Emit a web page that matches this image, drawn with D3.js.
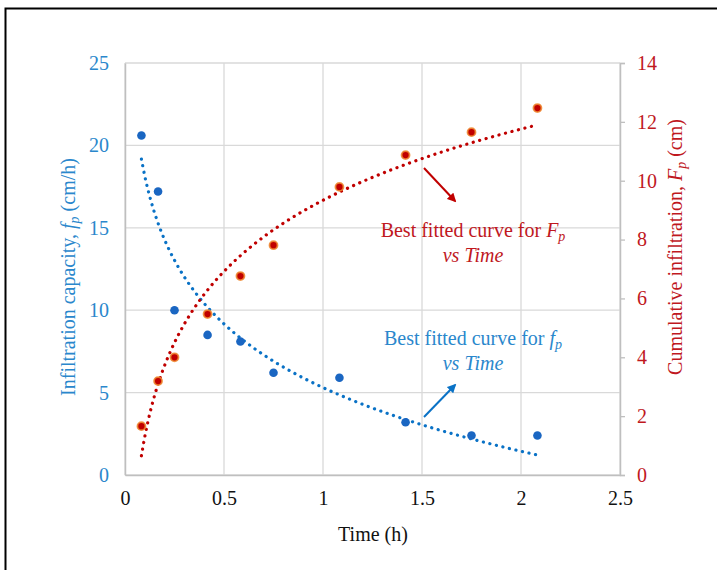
<!DOCTYPE html>
<html>
<head>
<meta charset="utf-8">
<script src="https://cdn.jsdelivr.net/npm/d3@7"></script>
<style>
  body { margin: 0; background: #fff; }
</style>
</head>
<body>
<svg id="chart" width="717" height="570"></svg>
<script>
"use strict";

// time of each reading (h)
var times = [0.083, 0.167, 0.25, 0.417, 0.583, 0.75, 1.083, 1.417, 1.75, 2.083];
// infiltration capacity fp (cm/h)
var fpValues = [20.6, 17.2, 10.0, 8.5, 8.1, 6.2, 5.9, 3.2, 2.4, 2.4];
// cumulative infiltration Fp (cm)
var FpValues = [1.66, 3.19, 4.0, 5.47, 6.76, 7.81, 9.79, 10.87, 11.65, 12.47];

var xTicks = [0, 0.5, 1, 1.5, 2, 2.5];
var yLeftTicks = [0, 5, 10, 15, 20, 25];
var yRightTicks = [0, 2, 4, 6, 8, 10, 12, 14];

var blue = "#1a66c2", blueLine = "#0a72c6", blueText = "#2a87cc";
var red = "#c00000", redText = "#c0181e";
var serif = "'Liberation Serif', 'Times New Roman', serif";

var margin = { top: 63, right: 97, bottom: 95, left: 125 };
var width = 717 - margin.left - margin.right;
var height = 570 - margin.top - margin.bottom;

var svg = d3.select("#chart");

// outer frame (only top and left edges show inside the picture)
svg.append("path").attr("d", "M5.5,570 V8.5 H717")
  .attr("fill", "none").attr("stroke", "#000").attr("stroke-width", 2);

var chart = svg.append("g").attr("transform", "translate(" + margin.left + "," + margin.top + ")");

var x = d3.scaleLinear().domain([0, 2.5]).range([0, width]);
var yL = d3.scaleLinear().domain([0, 25]).range([height, 0]);
var yR = d3.scaleLinear().domain([0, 14]).range([height, 0]);

// gridlines
chart.append("g").selectAll("line.h").data(yLeftTicks).enter().append("line")
  .attr("x1", 0).attr("x2", width)
  .attr("y1", function (d) { return yL(d); }).attr("y2", function (d) { return yL(d); })
  .attr("stroke", "#d9d9d9").attr("stroke-width", 1.3);
chart.append("g").selectAll("line.v").data(xTicks).enter().append("line")
  .attr("x1", function (d) { return x(d); }).attr("x2", function (d) { return x(d); })
  .attr("y1", 0).attr("y2", height)
  .attr("stroke", "#d9d9d9").attr("stroke-width", 1.3);

// axes
var xAxis = d3.axisBottom(x).tickValues(xTicks).tickSize(0).tickPadding(16).tickFormat(d3.format(""));
var yLeftAxis = d3.axisLeft(yL).tickValues(yLeftTicks).tickSize(0).tickPadding(16);
var yRightAxis = d3.axisRight(yR).tickValues(yRightTicks).tickSize(5).tickPadding(12);

function styleAxis(g, color) {
  g.select(".domain").attr("stroke", "#bfbfbf").attr("stroke-width", 1.5);
  g.selectAll(".tick line").attr("stroke", "#bfbfbf").attr("stroke-width", 1.3);
  g.selectAll(".tick text").attr("fill", color).style("font-size", "20px");
}

chart.append("g").attr("class", "x axis").attr("transform", "translate(0," + height + ")")
  .call(xAxis).call(styleAxis, "#111");
chart.append("g").attr("class", "y axis").call(yLeftAxis).call(styleAxis, blueText);
chart.append("g").attr("class", "y2 axis").attr("transform", "translate(" + width + ",0)")
  .call(yRightAxis).call(styleAxis, redText);

// axis titles
svg.append("text").attr("x", 373).attr("y", 541).attr("text-anchor", "middle")
  .attr("fill", "#111").style("font-size", "20px").text("Time (h)");

var lt = svg.append("text").attr("transform", "translate(75,277) rotate(-90)")
  .attr("text-anchor", "middle").attr("fill", blueText).style("font-size", "20px");
lt.append("tspan").text("Infiltration  capacity, ");
lt.append("tspan").attr("font-style", "italic").text("f");
lt.append("tspan").attr("font-style", "italic").attr("dy", 4).style("font-size", "14px").text("p");
lt.append("tspan").attr("dy", -4).text(" (cm/h)");

var rt = svg.append("text").attr("transform", "translate(682,247) rotate(-90)")
  .attr("text-anchor", "middle").attr("fill", redText).style("font-size", "20px");
rt.append("tspan").text("Cumulative infiltration, ");
rt.append("tspan").attr("font-style", "italic").text("F");
rt.append("tspan").attr("font-style", "italic").attr("dy", 4).style("font-size", "14px").text("p");
rt.append("tspan").attr("dy", -4).text(" (cm)");

// logarithmic least-squares trend line, as in the spreadsheet
function logFit(xs, ys) {
  var lx = xs.map(Math.log);
  var mx = d3.mean(lx), my = d3.mean(ys);
  var sxy = d3.sum(lx, function (v, i) { return (v - mx) * (ys[i] - my); });
  var sxx = d3.sum(lx, function (v) { return (v - mx) * (v - mx); });
  var b = sxy / sxx;
  var a = my - b * mx;
  return function (t) { return a + b * Math.log(t); };
}

function trendPoints(fit) {
  var t0 = d3.min(times), t1 = d3.max(times);
  return d3.range(0, 201).map(function (i) {
    var t = t0 + (t1 - t0) * i / 200;
    return [t, fit(t)];
  });
}

var fpFit = logFit(times, fpValues);
var FpFit = logFit(times, FpValues);

chart.append("path").datum(trendPoints(fpFit))
  .attr("d", d3.line().x(function (d) { return x(d[0]); }).y(function (d) { return yL(d[1]); }))
  .attr("fill", "none").attr("stroke", blueLine).attr("stroke-width", 3.2)
  .attr("stroke-linecap", "round").attr("stroke-dasharray", "0.1 6.6");

chart.append("path").datum(trendPoints(FpFit))
  .attr("d", d3.line().x(function (d) { return x(d[0]); }).y(function (d) { return yR(d[1]); }))
  .attr("fill", "none").attr("stroke", red).attr("stroke-width", 3.2)
  .attr("stroke-linecap", "round").attr("stroke-dasharray", "0.1 6.6");

// data points
chart.append("g").selectAll("circle").data(times).enter().append("circle")
  .attr("cx", function (d) { return x(d); })
  .attr("cy", function (d, i) { return yL(fpValues[i]); })
  .attr("r", 4.3).attr("fill", blue);

chart.append("g").selectAll("circle").data(times).enter().append("circle")
  .attr("cx", function (d) { return x(d); })
  .attr("cy", function (d, i) { return yR(FpValues[i]); })
  .attr("r", 4).attr("fill", red)
  .attr("stroke", "#f08a30").attr("stroke-opacity", 0.85).attr("stroke-width", 1.8);

// arrows and labels
var defs = svg.append("defs");
function marker(id, color) {
  defs.append("marker").attr("id", id).attr("viewBox", "0 0 10 10")
    .attr("refX", 8).attr("refY", 5).attr("markerWidth", 4.5).attr("markerHeight", 4.5)
    .attr("orient", "auto")
    .append("path").attr("d", "M0,0 L10,5 L0,10 Z").attr("fill", color);
}
marker("arrRed", red);
marker("arrBlue", blueLine);

svg.append("line").attr("x1", 424).attr("y1", 168).attr("x2", 455).attr("y2", 201)
  .attr("stroke", red).attr("stroke-width", 2).attr("marker-end", "url(#arrRed)");
svg.append("line").attr("x1", 424).attr("y1", 417).attr("x2", 455).attr("y2", 385)
  .attr("stroke", blueLine).attr("stroke-width", 2).attr("marker-end", "url(#arrBlue)");

function label(yTop, color, sym) {
  var t1 = svg.append("text").attr("x", 473).attr("y", yTop).attr("text-anchor", "middle")
    .attr("fill", color).style("font-size", "20px");
  t1.append("tspan").text("Best fitted curve for ");
  t1.append("tspan").attr("font-style", "italic").text(sym);
  t1.append("tspan").attr("font-style", "italic").attr("dy", 4).style("font-size", "14px").text("p");
  svg.append("text").attr("x", 473).attr("y", yTop + 25).attr("text-anchor", "middle")
    .attr("fill", color).attr("font-style", "italic").style("font-size", "20px").text("vs Time");
}
label(237, redText, "F");
label(345, blueText, "f");

// every text in the serif face of the original
svg.selectAll("text").style("font-family", serif);
</script>
</body>
</html>
